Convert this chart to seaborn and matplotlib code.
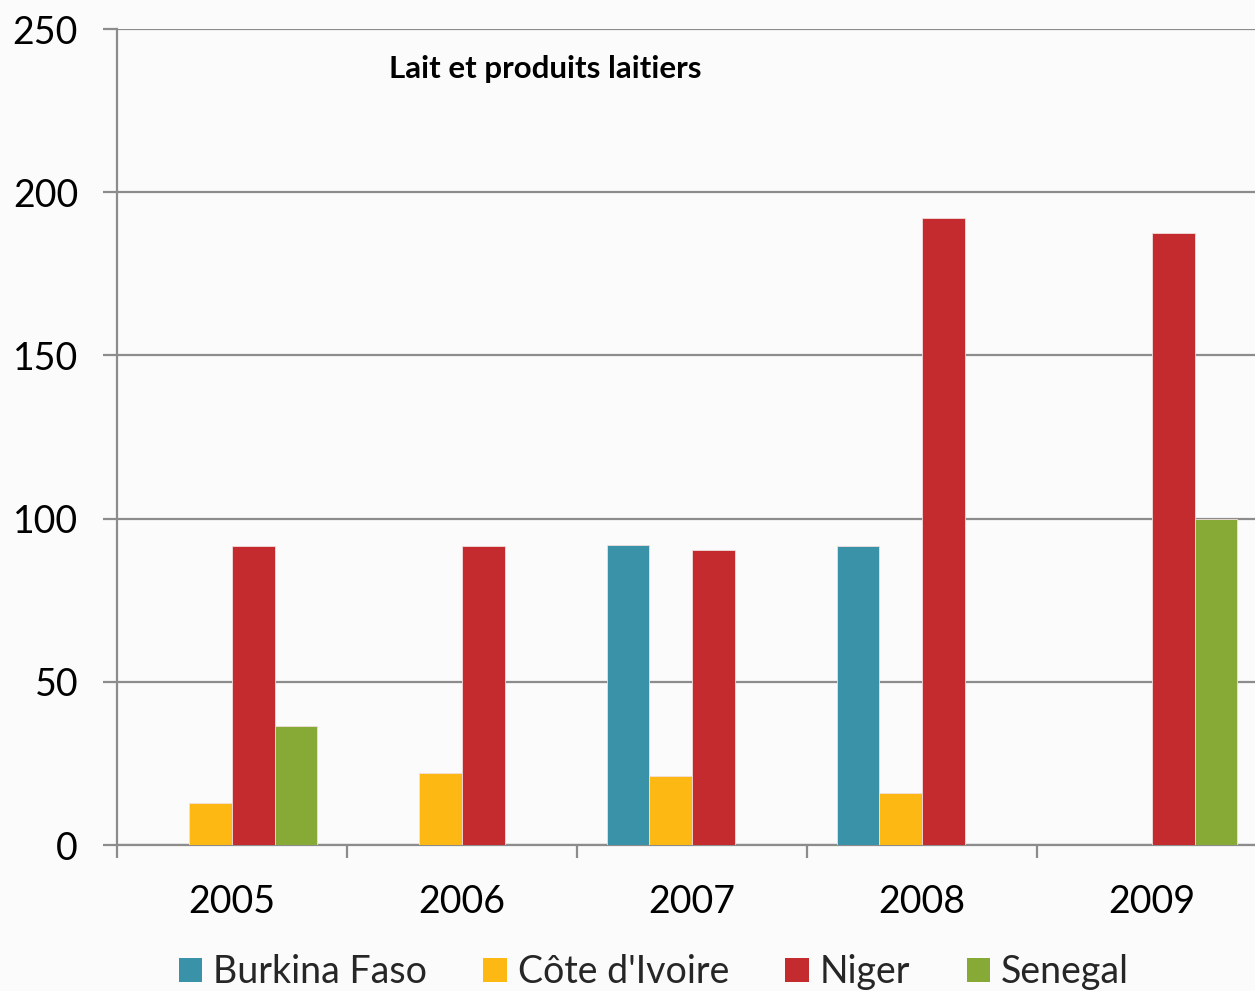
import matplotlib
matplotlib.use("Agg")
import matplotlib.pyplot as plt
import seaborn as sns
import pandas as pd
import numpy as np

years = ["2005", "2006", "2007", "2008", "2009"]
countries = ["Burkina Faso", "Côte d'Ivoire", "Niger", "Senegal"]
burkina = [None, None, 92, 91.5, None]
cote_ivoire = [13, 22, 21, 16, None]
niger = [91.5, 91.5, 90.5, 192, 187.5]
senegal = [36.5, None, None, None, 100]
colors = ["#3A92A8", "#FDB813", "#C42B2F", "#86AA35"]
title = "Lait et produits laitiers"

rows = []
for c, vals in zip(countries, [burkina, cote_ivoire, niger, senegal]):
    for y, v in zip(years, vals):
        rows.append({"year": y, "country": c, "value": v})
df = pd.DataFrame(rows).dropna()

sns.set_theme(style="white")
plt.rcParams["font.family"] = ["Lato", "DejaVu Sans"]

bg = "#fbfbfb"
fig = plt.figure(figsize=(12.55, 9.91), dpi=100, facecolor=bg)
ax = fig.add_axes([117/1255, 1-845/991, 1150/1255, (845-29)/991])
ax.set_facecolor(bg)

sns.barplot(data=df, x="year", y="value", hue="country", order=years,
            hue_order=countries, palette=colors, saturation=1, width=0.74, gap=0,
            edgecolor="#f2dede", linewidth=0.6, ax=ax, legend=True, zorder=3)

ax.set_ylim(0, 250)
ax.set_xlim(-0.5, 4.5)
ax.set_yticks([0, 50, 100, 150, 200, 250])
ax.yaxis.grid(True, color="#8c8c8c", linewidth=1.6, zorder=0)
ax.set_axisbelow(True)
ax.set_xlabel("")
ax.set_ylabel("")

for s in ["top", "right"]:
    ax.spines[s].set_visible(False)
for s in ["left", "bottom"]:
    ax.spines[s].set_color("#8c8c8c")
    ax.spines[s].set_linewidth(1.6)

ax.tick_params(axis="y", length=10, width=1.6, color="#8c8c8c", pad=18,
               labelsize=27, labelcolor="black", left=True, direction="out")
ax.tick_params(axis="x", which="major", length=0, pad=28, labelsize=27,
               labelcolor="black")
ax.set_xticks(np.arange(-0.5, 4.5, 1), minor=True)
ax.tick_params(axis="x", which="minor", length=9, width=1.6,
               color="#8c8c8c", bottom=True, direction="out")

ax.text((545-117)/1150, 0.951, title, transform=ax.transAxes, ha="center", va="center",
        fontsize=22.5, fontweight="bold", color="black")

handles, labels = ax.get_legend_handles_labels()
ax.get_legend().remove()
leg = fig.legend(handles, labels, loc="center", bbox_to_anchor=(0.521, 0.019),
                 ncol=4, frameon=False, fontsize=27, handlelength=0.62,
                 handleheight=0.62, handletextpad=0.3, columnspacing=1.5,
                 borderaxespad=0)
for h in leg.legend_handles:
    h.set_edgecolor("none")

fig.savefig("out.png", dpi=100, facecolor=bg)
